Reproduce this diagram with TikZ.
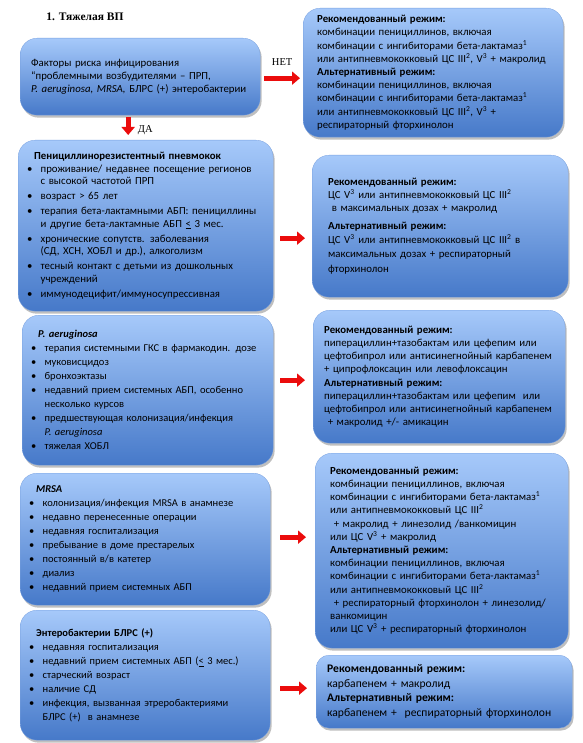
\documentclass[tikz,border=0pt]{standalone}
\usepackage{fontspec}
\setmainfont{Carlito}
\newfontfamily\timesfont{Liberation Serif}
\usepackage{tikz}
\usetikzlibrary{arrows.meta,shadows,calc}
\definecolor{boxtop}{RGB}{166,201,250}
\definecolor{boxbot}{RGB}{70,121,201}
\definecolor{boxedge}{RGB}{120,160,222}
\definecolor{arrred}{RGB}{235,12,12}
\newcommand{\itm}{\makebox[13.5pt][l]{\textbullet}}
\newcommand{\cnt}{\hspace*{13.5pt}}
\newcommand{\hd}{\hspace*{7pt}}
\tikzset{
  rbox/.style={rectangle,rounded corners=17pt,top color=boxtop,bottom color=boxbot,
               draw=boxedge,line width=0.3pt,anchor=north west,align=left,
               font=\fontsize{10.8}{13.2}\selectfont,inner ysep=2pt,
               drop shadow={shadow xshift=1.5pt,shadow yshift=-2.5pt,fill=black,opacity=0.25}},
  lbox/.style={rbox,inner xsep=9pt,font=\fontsize{10.5}{14}\selectfont},
  redarr/.style={-{Triangle[length=8pt,width=13pt]},line width=5pt,draw=arrred},
  lbl/.style={font=\timesfont\fontsize{10.5}{12}\selectfont},
}

\begin{document}
\begin{tikzpicture}[x=1pt,y=-1pt]
  \useasboundingbox (0,0) rectangle (582,743);
  \node[lbl,font=\timesfont\bfseries\fontsize{11.5}{13}\selectfont] (ttl) at (85,17) {1. Тяжелая ВП};
  % left column: risk factors
  \node[rbox,inner xsep=11pt,text width=218pt,minimum height=77pt] (fac) at (20,38)
    {Факторы риска инфицирования\\
     “проблемными возбудителями -- ПРП,\\
     \textit{P. aeruginosa, MRSA,} БЛРС (+) энтеробактерии};
  \node[lbox,text width=237pt,minimum height=171pt,font=\fontsize{10.8}{12.6}\selectfont] (prp) at (18,140)
    {\hd\textbf{Пенициллинорезистентный пневмокок}\\
     \itm проживание/ недавнее посещение регионов\\
     \cnt с высокой частотой ПРП\\[2.4pt]
     \itm возраст > 65 лет\\[2.4pt]
     \itm терапия бета-лактамными АБП: пенициллины\\
     \cnt и другие бета-лактамные АБП \underline{<} 3 мес.\\[2.4pt]
     \itm хронические сопутств. заболевания\\
     \cnt (СД, ХСН, ХОБЛ и др.), алкоголизм\\[2.4pt]
     \itm тесный контакт с детьми из дошкольных\\
     \cnt учреждений\\[2.4pt]
     \itm иммунодецифит/иммуносупрессивная};
  \node[lbox,text width=233pt,minimum height=150pt] (aer) at (22,315)
    {\hd\textbf{\textit{P. aeruginosa}}\\
     \itm терапия системными ГКС в фармакодин. дозе\\
     \itm муковисцидоз\\
     \itm бронхоэктазы\\
     \itm недавний прием системных АБП, особенно\\
     \cnt несколько курсов\\
     \itm предшествующая колонизация/инфекция\\
     \cnt\textit{P. aeruginosa}\\
     \itm тяжелая ХОБЛ};
  \node[lbox,text width=232pt,minimum height=132pt] (mrsa) at (20,473)
    {\hd\textbf{\textit{MRSA}}\\
     \itm колонизация/инфекция MRSA в анамнезе\\
     \itm недавно перенесенные операции\\
     \itm недавняя госпитализация\\
     \itm пребывание в доме престарелых\\
     \itm постоянный в/в катетер\\
     \itm диализ\\
     \itm недавний прием системных АБП};
  \node[lbox,text width=232pt,minimum height=130pt] (esbl) at (20,610)
    {\hd\textbf{Энтеробактерии БЛРС (+)}\\
     \itm недавняя госпитализация\\
     \itm недавний прием системных АБП (\underline{<} 3 мес.)\\
     \itm старческий возраст\\
     \itm наличие СД\\
     \itm инфекция, вызванная этреробактериями\\
     \cnt БЛРС (+)\ \ в анамнезе};
  % right column: regimens
  \node[rbox,inner xsep=14pt,text width=232pt,minimum height=129pt] (reg1) at (303,8)
    {\textbf{Рекомендованный режим:}\\
     комбинации пенициллинов, включая\\
     комбинации с ингибиторами бета-лактамаз\textsuperscript{1}\\
     или антипневмококковый ЦС III\textsuperscript{2}, V\textsuperscript{3} + макролид\\
     \textbf{Альтернативный режим:}\\
     комбинации пенициллинов, включая\\
     комбинации с ингибиторами бета-лактамаз\textsuperscript{1}\\
     или антипневмококковый ЦС III\textsuperscript{2}, V\textsuperscript{3} +\\
     респираторный фторхинолон};
  \node[rbox,inner xsep=16pt,text width=224pt,minimum height=142pt] (reg2) at (312,155)
    {\textbf{Рекомендованный режим:}\\
     ЦС V\textsuperscript{3} или антипневмококковый ЦС III\textsuperscript{2}\\
     \ в максимальных дозах + макролид\\[5pt]
     \textbf{Альтернативный режим:}\\
     ЦС V\textsuperscript{3} или антипневмококковый ЦС III\textsuperscript{2} в\\[1.5pt]
     максимальных дозах + респираторный\\[1.5pt]
     фторхинолон};
  \node[rbox,inner xsep=11pt,text width=230pt,minimum height=133pt] (reg3) at (313,310)
    {\textbf{Рекомендованный режим:}\\
     пиперациллин+тазобактам или цефепим или\\
     цефтобипрол или антисинегнойный карбапенем\\
     + ципрофлоксацин или левофлоксацин\\
     \textbf{Альтернативный режим:}\\
     пиперациллин+тазобактам или цефепим\ \ или\\
     цефтобипрол или антисинегнойный карбапенем\\
     \ + макролид +/- амикацин};
  \node[rbox,inner xsep=15pt,text width=223pt,minimum height=195pt] (reg4) at (315,453)
    {\textbf{Рекомендованный режим:}\\
     комбинации пенициллинов, включая\\
     комбинации с ингибиторами бета-лактамаз\textsuperscript{1}\\
     или антипневмококковый ЦС III\textsuperscript{2}\\
     \ + макролид + линезолид /ванкомицин\\
     или ЦС V\textsuperscript{3} + макролид\\
     \textbf{Альтернативный режим:}\\
     комбинации пенициллинов, включая\\
     комбинации с ингибиторами бета-лактамаз\textsuperscript{1}\\
     или антипневмококковый ЦС III\textsuperscript{2}\\
     \ + респираторный фторхинолон + линезолид/\\
     ванкомицин\\
     или ЦС V\textsuperscript{3} + респираторный фторхинолон};
  \node[rbox,inner xsep=11pt,text width=234pt,minimum height=73pt,rounded corners=13pt,
        font=\fontsize{11.6}{14.6}\selectfont] (reg5) at (316,655)
    {\textbf{Рекомендованный режим:}\\
     карбапенем + макролид\\
     \textbf{Альтернативный режим:}\\
     карбапенем +\ \ респираторный фторхинолон};
  % arrows
  \draw[redarr] ([xshift=4pt,yshift=-1.5pt]fac.east) -- ([xshift=-3pt,yshift=-1.5pt]fac.east -| reg1.west)
    node[lbl,pos=0.5,above=7pt] (no) {НЕТ};
  \draw[redarr] ([xshift=-12pt,yshift=-2pt]fac.south) -- ([xshift=-12pt,yshift=5pt]fac.south |- prp.north)
    node[lbl,right=4pt,yshift=5pt] (yes) {ДА};
  \draw[redarr] ([xshift=7pt,yshift=-12.5pt]prp.east) -- ([xshift=-7pt,yshift=-12.5pt]prp.east -| reg2.west);
  \draw[redarr] ([xshift=7pt,yshift=10pt]aer.east) -- ([xshift=-8pt,yshift=10pt]aer.east -| reg3.west);
  \draw[redarr] ([xshift=10pt,yshift=2pt]mrsa.east) -- ([xshift=-9pt,yshift=2pt]mrsa.east -| reg4.west);
  \draw[redarr] ([xshift=10pt,yshift=-13pt]esbl.east) -- ([xshift=-9pt,yshift=-13pt]esbl.east -| reg5.west);
\end{tikzpicture}
\end{document}
